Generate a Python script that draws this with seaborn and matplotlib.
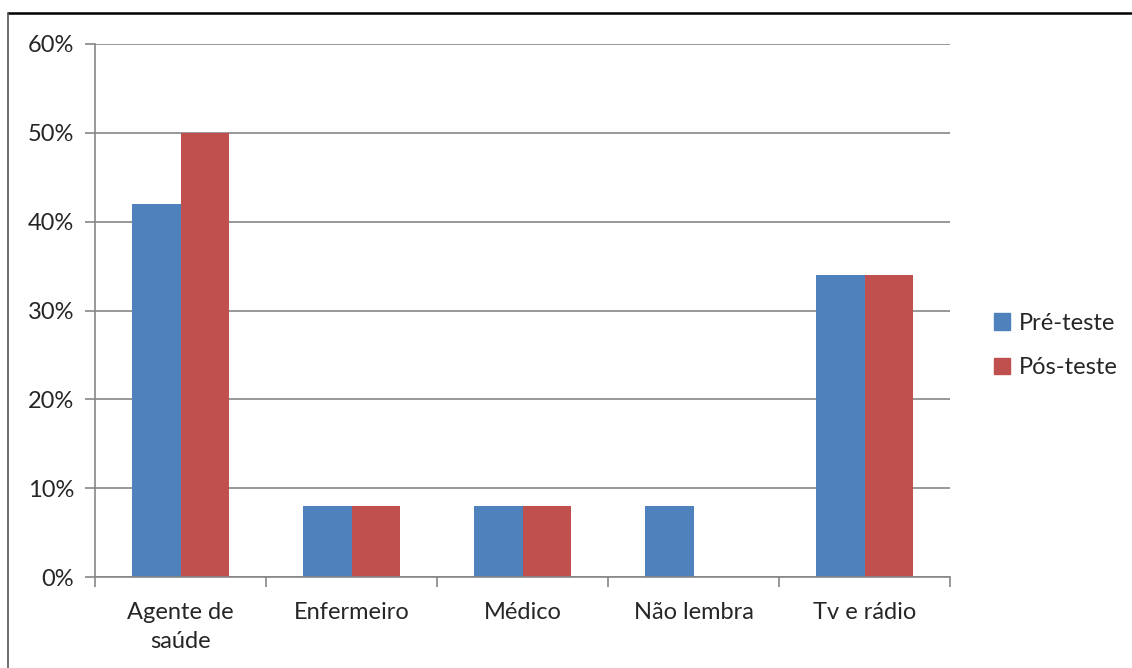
import matplotlib

matplotlib.use("Agg")
import matplotlib.pyplot as plt
import pandas as pd
import seaborn as sns
from matplotlib.lines import Line2D
from matplotlib.ticker import FixedLocator, PercentFormatter

CATEGORIES = ["Agente de\nsaúde", "Enfermeiro", "Médico", "Não lembra", "Tv e rádio"]
PRE_TESTE = [42, 8, 8, 8, 34]
POS_TESTE = [50, 8, 8, 0, 34]
SERIES = ["Pré-teste", "Pós-teste"]
COLORS = ["#4F81BD", "#C0504D"]
Y_TICKS = [0, 10, 20, 30, 40, 50, 60]


def build_frame():
    rows = []
    for cat, pre, pos in zip(CATEGORIES, PRE_TESTE, POS_TESTE):
        rows.append({"categoria": cat, "serie": SERIES[0], "valor": pre})
        rows.append({"categoria": cat, "serie": SERIES[1], "valor": pos})
    return pd.DataFrame(rows)


def main():
    sns.set_style("white")
    plt.rcParams["font.family"] = ["Lato", "DejaVu Sans"]

    df = build_frame()

    fig = plt.figure(figsize=(11.32, 6.68), dpi=100)
    ax = fig.add_axes([95 / 1132, 91 / 668, 855 / 1132, 533 / 668])

    sns.barplot(
        data=df,
        x="categoria",
        y="valor",
        hue="serie",
        palette=COLORS,
        width=0.57,
        saturation=1,
        linewidth=0,
        legend=False,
        ax=ax,
    )

    grid_color = "#868686"
    ax.set_ylim(0, 60)
    ax.set_xlim(-0.5, len(CATEGORIES) - 0.5)
    ax.yaxis.set_major_locator(FixedLocator(Y_TICKS))
    ax.yaxis.set_major_formatter(PercentFormatter(decimals=0))
    ax.grid(axis="y", color=grid_color, linewidth=1.2)
    ax.set_axisbelow(True)

    for side in ["top", "right"]:
        ax.spines[side].set_visible(False)
    for side in ["left", "bottom"]:
        ax.spines[side].set_color(grid_color)
        ax.spines[side].set_linewidth(1.2)

    ax.set_xlabel("")
    ax.set_ylabel("")
    ax.tick_params(axis="y", length=7, width=1.2, color=grid_color,
                   labelsize=17, pad=8, direction="out", left=True)
    ax.tick_params(axis="x", which="major", length=0, labelsize=17, pad=18)
    ax.xaxis.set_minor_locator(FixedLocator([i - 0.5 for i in range(len(CATEGORIES) + 1)]))
    ax.tick_params(axis="x", which="minor", length=7, width=1.2, color=grid_color,
                   direction="out", bottom=True)
    for label in ax.get_xticklabels():
        label.set_horizontalalignment("center")
        label.set_multialignment("center")
        label.set_verticalalignment("top")
        label.set_linespacing(1.45)

    handles = [plt.Rectangle((0, 0), 1, 1, color=c) for c in COLORS]
    fig.legend(
        handles,
        SERIES,
        loc="center left",
        bbox_to_anchor=(0.859, 0.483),
        frameon=False,
        fontsize=17,
        handlelength=0.7,
        handleheight=0.7,
        handletextpad=0.35,
        labelspacing=1.0,
    )

    fig.add_artist(Line2D([8 / 1132, 1.0], [1 - 13 / 668, 1 - 13 / 668],
                          transform=fig.transFigure, color="black", linewidth=1.8))
    fig.add_artist(Line2D([8 / 1132, 8 / 1132], [0, 1 - 13 / 668],
                          transform=fig.transFigure, color="#555555", linewidth=1.2))

    fig.savefig("out.png", dpi=100)
    plt.close(fig)


if __name__ == "__main__":
    main()
